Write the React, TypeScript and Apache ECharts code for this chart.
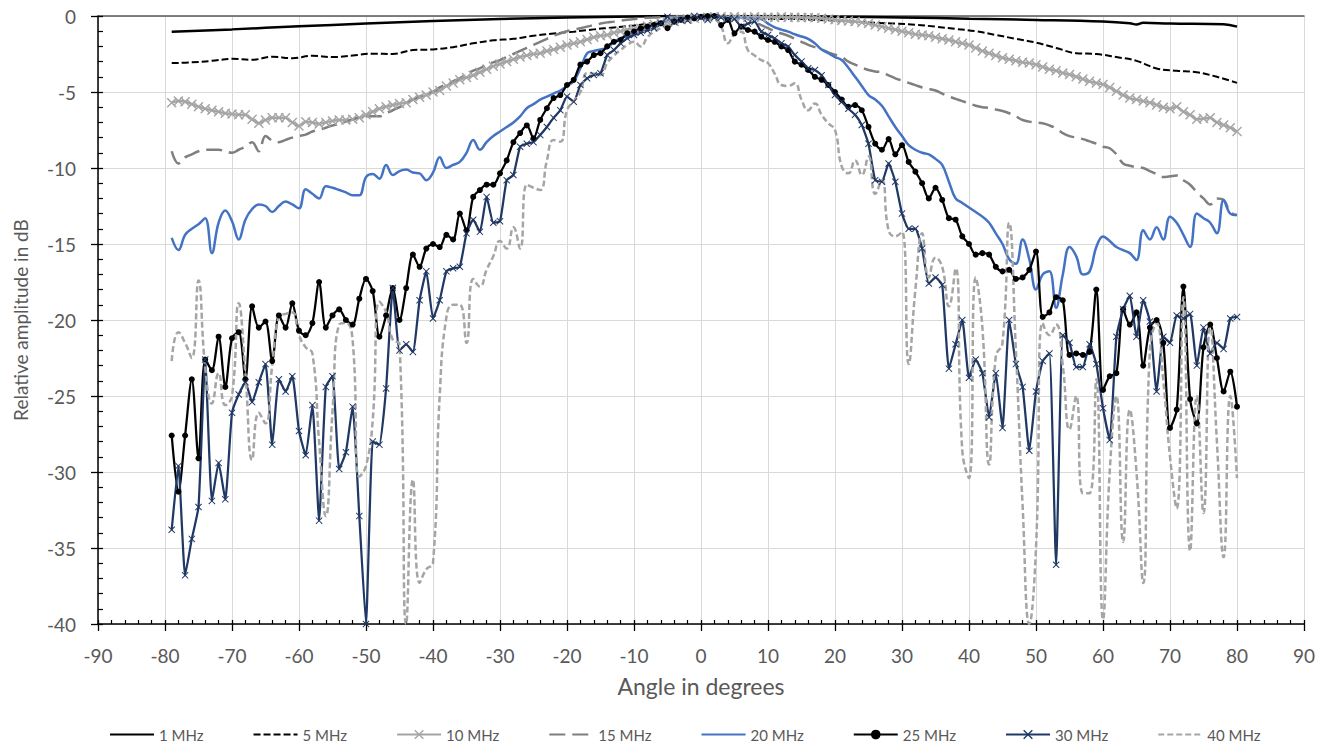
import React, { useEffect, useRef } from "react";
import * as echarts from "echarts";

// x-grid shared by the densely sampled series (-79 .. 80 degrees, 1 degree step)
const ANGLES: number[] = Array.from({ length: 160 }, (_, i) => i - 79);

const ANGLES_1MHZ = [-79, -70, -60, -50, -40, -30, -20, -10, 0, 10, 20, 30, 40, 50, 60, 64, 65, 66, 70, 78, 80];
const MHZ1 = [-1.03, -0.88, -0.68, -0.5, -0.33, -0.2, -0.1, -0.03, 0, 0, -0.05, -0.1, -0.18, -0.26, -0.37, -0.48, -0.56, -0.45, -0.5, -0.55, -0.7];

const ANGLES_5MHZ = [-79, -76, -73, -70, -67, -64, -61, -58, -55, -52, -49, -46, -43, -40, -37, -34, -31, -28, -25, -22, -19, -16, -13, -10, -7, -4, -1, 2, 5, 8, 11, 14, 17, 20, 23, 26, 29, 32, 35, 38, 41, 44, 47, 50, 53, 56, 59, 62, 65, 68, 71, 74, 77, 80];
const MHZ5 = [-3.1, -3.05, -2.95, -2.82, -2.88, -2.68, -2.78, -2.62, -2.7, -2.6, -2.48, -2.5, -2.24, -2.2, -2.05, -1.8, -1.6, -1.5, -1.3, -1.15, -1.03, -0.88, -0.75, -0.62, -0.45, -0.25, -0.08, -0.05, -0.1, -0.15, -0.2, -0.2, -0.25, -0.3, -0.37, -0.45, -0.5, -0.58, -0.7, -0.85, -1.0, -1.25, -1.5, -1.75, -2.1, -2.45, -2.5, -2.7, -2.95, -3.45, -3.6, -3.7, -4.0, -4.4];

const MHZ10 = [
  -5.7, -5.6, -5.64, -5.8, -5.97, -6.1, -6.2, -6.3, -6.4, -6.45,
  -6.5, -6.5, -6.8, -7.05, -6.85, -6.7, -6.7, -6.7, -7.0, -7.24,
  -6.95, -7.0, -7.1, -7.0, -6.9, -6.84, -6.84, -6.8, -6.7, -6.5,
  -6.3, -6.1, -5.97, -5.85, -5.75, -5.7, -5.5, -5.35, -5.2, -5.0,
  -4.9, -4.6, -4.4, -4.2, -4.05, -3.9, -3.7, -3.5, -3.3, -3.15,
  -3.0, -2.85, -2.7, -2.6, -2.5, -2.45, -2.3, -2.2, -2.05, -1.9,
  -1.8, -1.7, -1.55, -1.4, -1.3, -1.25, -1.1, -1.0, -0.9, -0.85,
  -0.8, -0.65, -0.55, -0.45, -0.4, -0.37, -0.25, -0.2, -0.15, -0.1,
  -0.08, -0.05, -0.05, -0.1, -0.05, -0.08, -0.1, -0.05, -0.1, -0.08,
  -0.1, -0.05, -0.1, -0.08, -0.1, -0.1, -0.12, -0.15, -0.2, -0.25,
  -0.3, -0.33, -0.37, -0.42, -0.5, -0.6, -0.7, -0.8, -0.9, -1.0,
  -1.1, -1.2, -1.25, -1.3, -1.4, -1.5, -1.58, -1.7, -1.8, -1.9,
  -2.1, -2.3, -2.45, -2.6, -2.75, -2.85, -2.95, -3.05, -3.1, -3.2,
  -3.35, -3.5, -3.6, -3.75, -3.85, -4.0, -4.15, -4.3, -4.4, -4.5,
  -4.7, -4.95, -5.2, -5.4, -5.5, -5.6, -5.7, -5.85, -6.0, -6.1,
  -5.97, -6.3, -6.5, -6.8, -6.75, -6.7, -7.0, -7.17, -7.35, -7.6,
];

const MHZ15 = [
  -8.9, -9.7, -9.3, -9.1, -8.9, -8.8, -8.8, -8.8, -8.9, -9.0,
  -8.8, -8.6, -8.3, -8.9, -7.9, -8.2, -8.3, -8.15, -8.0, -7.9,
  -7.8, -7.6, -7.5, -7.35, -7.2, -7.1, -6.95, -6.8, -6.65, -6.6,
  -6.6, -6.6, -6.4, -6.2, -6.0, -5.75, -5.5, -5.3, -5.1, -5.0,
  -4.7, -4.5, -4.3, -4.1, -3.85, -3.6, -3.44, -3.2, -3.05, -2.9,
  -2.7, -2.5, -2.3, -2.1, -1.9, -1.7, -1.5, -1.3, -1.15, -1.0,
  -0.9, -0.8, -0.7, -0.6, -0.5, -0.42, -0.37, -0.3, -0.25, -0.2,
  -0.15, -0.12, -0.1, -0.08, -0.05, -0.05, -0.03, -0.02, 0, 0,
  0, -0.02, -0.03, -0.05, -0.05, -0.1, -0.2, -0.4, -0.6, -0.8,
  -1.0, -1.15, -1.3, -1.5, -1.7, -1.9, -2.05, -2.2, -2.4, -2.55,
  -2.7, -3.0, -3.2, -3.4, -3.55, -3.65, -3.7, -3.9, -4.1, -4.25,
  -4.4, -4.55, -4.7, -4.8, -4.9, -5.1, -5.3, -5.45, -5.6, -5.75,
  -5.9, -6.0, -6.05, -6.15, -6.25, -6.4, -6.6, -6.84, -6.95, -7.0,
  -7.06, -7.2, -7.4, -7.7, -7.9, -8.0, -8.1, -8.25, -8.4, -8.6,
  -8.7, -9.1, -9.7, -9.85, -9.95, -10.0, -10.2, -10.4, -10.6, -10.55,
  -10.5, -10.8, -11.1, -11.6, -12.0, -12.4, -12.0, -12.1, -12.9, -13.1,
];

const MHZ20 = [
  -14.6, -15.4, -14.4, -14.0, -13.7, -13.3, -15.6, -13.6, -12.8, -13.5,
  -14.7, -13.4, -12.7, -12.4, -12.5, -12.9, -12.5, -12.2, -12.4, -12.65,
  -11.4, -11.7, -12.0, -11.2, -11.3, -11.45, -11.6, -11.8, -11.8, -10.6,
  -10.4, -10.7, -9.8, -10.46, -10.2, -10.1, -10.3, -10.35, -10.8, -10.3,
  -9.3, -10.0, -9.8, -9.6, -9.0, -8.16, -8.8, -8.3, -7.9, -7.6,
  -7.3, -7.0, -6.6, -6.07, -5.8, -5.5, -5.3, -5.1, -4.9, -4.6,
  -4.3, -3.44, -2.45, -2.3, -2.2, -2.1, -1.7, -1.45, -1.3, -1.1,
  -0.92, -0.75, -0.55, -0.4, -0.3, -0.2, -0.1, -0.05, 0, 0,
  0, -0.05, -0.1, -0.1, -0.15, -0.1, -0.15, -0.15, -0.2, -0.5,
  -0.75, -0.9, -1.03, -1.2, -1.35, -1.5, -1.8, -2.2, -2.45, -2.7,
  -2.9, -3.4, -4.0, -4.6, -5.2, -5.5, -5.9, -6.6, -7.3, -7.9,
  -8.5, -8.8, -9.0, -9.1, -9.4, -9.8, -10.9, -12.0, -12.3, -12.6,
  -12.9, -13.2, -13.6, -14.3, -15.0, -16.0, -16.3, -14.7, -16.0, -18.0,
  -17.0, -16.8, -19.2, -17.0, -15.2, -15.8, -17.0, -16.8, -15.2, -14.5,
  -14.8, -15.2, -15.4, -15.6, -16.05, -14.1, -14.7, -13.9, -14.7, -13.2,
  -13.6, -14.4, -15.2, -13.0, -13.3, -13.6, -14.3, -12.1, -13.0, -13.1,
];

const MHZ25 = [
  -27.6, -31.3, -27.6, -23.9, -29.1, -22.6, -23.3, -21.1, -24.4, -21.2,
  -20.8, -23.9, -19.1, -20.5, -20.1, -22.7, -19.7, -20.5, -18.9, -20.7,
  -21.0, -20.2, -17.5, -20.5, -19.7, -19.3, -20.0, -20.3, -18.6, -17.3,
  -18.1, -21.1, -19.7, -17.9, -20.0, -17.9, -15.7, -16.5, -15.3, -15.0,
  -15.2, -14.4, -14.7, -13.0, -14.1, -11.9, -11.45, -11.1, -11.1, -10.35,
  -9.5, -8.3, -7.7, -7.2, -8.05, -6.84, -6.07, -5.4, -5.2, -4.54,
  -4.2, -3.2, -3.0, -2.57, -2.45, -2.0, -1.7, -1.58, -1.14, -1.03,
  -0.81, -0.7, -0.6, -0.48, -0.8, -0.37, -0.25, -0.1, -0.15, -0.05,
  0, 0, -0.6, -0.26, -1.14, -0.7, -0.92, -1.03, -1.36, -1.58,
  -1.7, -2.0, -2.24, -3.0, -3.2, -3.55, -4.0, -4.2, -4.54, -5.0,
  -5.5, -5.97, -5.86, -6.2, -7.3, -8.4, -8.8, -8.1, -9.1, -8.5,
  -9.6, -10.24, -11.0, -12.0, -11.3, -12.1, -13.3, -13.4, -14.5, -15.0,
  -15.7, -15.6, -15.7, -16.5, -16.8, -16.7, -17.3, -17.2, -16.7, -15.5,
  -19.8, -19.5, -18.5, -18.7, -22.3, -22.2, -22.3, -22.1, -18.0, -24.6,
  -23.7, -23.5, -19.3, -20.3, -19.5, -23.0, -20.5, -20.0, -21.5, -27.1,
  -25.9, -17.8, -25.2, -26.8, -21.8, -20.3, -22.5, -24.7, -23.4, -25.7,
];

const MHZ30 = [
  -33.8, -29.6, -36.8, -34.4, -32.3, -22.6, -31.9, -29.4, -31.8, -26.1,
  -24.9, -24.1, -25.4, -24.1, -22.9, -28.2, -23.9, -24.7, -23.7, -27.3,
  -28.9, -25.6, -33.2, -24.4, -23.7, -29.8, -28.7, -25.7, -32.9, -40,
  -28.0, -28.2, -24.5, -17.9, -22.0, -21.6, -22.1, -18.7, -16.8, -19.9,
  -18.7, -16.8, -16.6, -16.5, -14.3, -13.4, -14.2, -11.9, -13.6, -13.5,
  -10.8, -10.46, -8.6, -8.4, -8.3, -7.83, -7.3, -6.7, -6.2, -5.3,
  -5.64, -4.54, -4.1, -3.88, -3.77, -2.57, -2.24, -1.8, -1.47, -1.25,
  -1.1, -0.95, -0.81, -0.5, -0.05, -0.4, -0.26, -0.3, 0, -0.1,
  -0.26, -0.1, -0.1, -0.2, -0.2, -0.7, -0.5, -0.37, -1.03, -1.25,
  -1.47, -1.8, -2.0, -2.57, -3.0, -3.44, -3.55, -3.9, -4.54, -5.2,
  -5.64, -6.1, -6.5, -7.17, -8.4, -10.8, -10.9, -9.7, -10.9, -13.0,
  -14.0, -14.0, -15.3, -17.6, -17.2, -17.7, -23.2, -21.6, -20.0, -23.8,
  -22.6, -23.5, -26.4, -23.5, -27.1, -20.0, -22.9, -24.4, -28.6, -24.7,
  -22.7, -22.2, -36.1, -21.0, -21.5, -23.1, -23.1, -21.6, -22.9, -25.8,
  -27.9, -21.1, -19.3, -18.4, -21.1, -18.7, -20.1, -24.7, -21.1, -21.5,
  -19.7, -19.9, -19.6, -23.0, -20.5, -22.2, -21.5, -21.9, -19.9, -19.8,
];

const MHZ40 = [
  -22.7, -20.8, -21.5, -22.5, -17.4, -23.1, -25.5, -23.5, -25.6, -25.0,
  -18.9, -23.5, -29.2, -26.1, -26.8, -23.0, -19.8, -19.6, -19.5, -21.0,
  -21.8, -22.2, -28.0, -32.9, -26.0, -20.3, -20.2, -21.3, -30.3, -29.6,
  -26.6, -18.8, -19.5, -21.3, -21.6, -40, -30.5, -37.3, -36.4, -36.0,
  -25.0, -19.8, -19.0, -19.0, -21.5, -17.3, -17.8, -16.7, -15.8, -14.8,
  -15.3, -13.9, -15.3, -11.1, -11.3, -11.45, -9.5, -8.16, -8.27, -6.2,
  -5.6, -5.0, -3.77, -3.8, -3.88, -3.1, -2.6, -2.24, -1.9, -1.7,
  -2.0, -1.4, -1.03, -0.8, -0.6, -0.48, -0.35, -0.25, -0.2, -0.15,
  -0.1, -0.2, -0.7, -1.8, -1.2, -1.03, -2.24, -2.6, -2.9, -3.1,
  -3.8, -4.54, -4.6, -4.43, -5.5, -6.2, -5.75, -6.5, -7.06, -7.5,
  -9.9, -10.35, -9.5, -10.46, -9.25, -11.7, -10.8, -14.1, -14.5, -14.2,
  -22.9, -18.0, -14.3, -17.2, -15.9, -16.5, -19.1, -16.6, -28.6, -30.4,
  -17.2, -20.5, -29.5, -22.4, -21.5, -13.6, -22.0, -32.2, -40, -35.0,
  -20.2, -21.0, -20.3, -23.0, -27.2, -25.0, -31.4, -31.4, -23.9, -39.7,
  -30.0, -25.0, -34.6, -25.9, -30.0, -37.3, -22.0, -20.2, -24.0, -29.0,
  -32.4, -18.5, -35.2, -25.0, -32.7, -20.2, -28.0, -35.6, -25.0, -30.4,
];

const SERIES_NAMES = ["1 MHz", "5 MHz", "10 MHz", "15 MHz", "20 MHz", "25 MHz", "30 MHz", "40 MHz"];
const MARKER_SERIES = ["10 MHz", "25 MHz", "30 MHz"];

const pair = (xs: number[], ys: number[]) => xs.map((x, i) => [x, ys[i]]);

const X_SYMBOL =
  "path://M0,1L1,0L5,4L9,0L10,1L6,5L10,9L9,10L5,6L1,10L0,9L4,5Z";

export default function App() {
  const ref = useRef<HTMLDivElement>(null);

  useEffect(() => {
    if (!ref.current) return;
    const chart = echarts.init(ref.current, null, { renderer: "svg" });
    const font = "Lato, 'Liberation Sans', sans-serif";
    const textGray = "#595959";
    const gridColor = "#d9d9d9";

    const plain = (name: string, xs: number[], ys: number[], color: string, width: number, dash: any, smooth: number) => ({
      name,
      type: "line",
      data: pair(xs, ys),
      smooth,
      symbol: "none",
      lineStyle: { color, width, type: dash },
      itemStyle: { color },
    });

    const legendData = SERIES_NAMES.map((n) =>
      MARKER_SERIES.indexOf(n) >= 0 ? { name: n } : { name: n, itemStyle: { opacity: 0 } }
    );

    const option: any = {
      animation: false,
      backgroundColor: "#ffffff",
      textStyle: { fontFamily: font },
      grid: { left: 98, right: 29, top: 16, bottom: 120, containLabel: false },
      legend: {
        left: 104,
        top: 722,
        itemWidth: 44,
        itemHeight: 12,
        itemGap: 49,
        textStyle: { color: textGray, fontSize: 15, fontFamily: font },
        data: legendData,
      },
      xAxis: [
        {
          type: "value",
          min: -90,
          max: 90,
          interval: 10,
          position: "bottom",
          name: "Angle in degrees",
          nameLocation: "middle",
          nameGap: 50,
          nameTextStyle: { color: textGray, fontSize: 23, fontFamily: font },
          axisLine: { onZero: false, lineStyle: { color: "#000", width: 1.5 } },
          axisTick: { show: true, inside: true, length: 4, lineStyle: { color: "#000", width: 1.3 } },
          minorTick: { show: true, splitNumber: 5, length: 4, lineStyle: { color: "#000", width: 1.2 } },
          axisLabel: { color: textGray, fontSize: 19, margin: 22, fontFamily: font },
          splitLine: { show: true, lineStyle: { color: gridColor, width: 1 } },
        },
        {
          type: "value",
          min: -90,
          max: 90,
          interval: 10,
          position: "bottom",
          axisLine: { show: false, onZero: false },
          axisTick: { show: true, inside: false, length: 7, lineStyle: { color: "#000", width: 1.3 } },
          axisLabel: { show: false },
          splitLine: { show: false },
        },
        {
          type: "value",
          min: -90,
          max: 90,
          interval: 10,
          position: "top",
          axisLine: { show: true, onZero: false, lineStyle: { color: "#595959", width: 1.5 } },
          axisTick: { show: false },
          axisLabel: { show: false },
          splitLine: { show: false },
        },
      ],
      yAxis: [
        {
          type: "value",
          min: -40,
          max: 0,
          interval: 5,
          position: "left",
          name: "Relative amplitude in dB",
          nameLocation: "middle",
          nameGap: 68,
          nameRotate: 90,
          nameTextStyle: { color: textGray, fontSize: 19, fontFamily: font },
          axisLine: { show: true, onZero: false, lineStyle: { color: "#000", width: 1.5 } },
          axisTick: { show: true, inside: true, length: 5, lineStyle: { color: "#000", width: 1.3 } },
          minorTick: { show: true, splitNumber: 5, length: 5, lineStyle: { color: "#000", width: 1.2 } },
          axisLabel: { color: textGray, fontSize: 19, margin: 22, fontFamily: font },
          splitLine: { show: true, lineStyle: { color: gridColor, width: 1 } },
        },
        {
          type: "value",
          min: -40,
          max: 0,
          interval: 5,
          position: "left",
          axisLine: { show: false, onZero: false },
          axisTick: { show: true, inside: false, length: 7, lineStyle: { color: "#000", width: 1.3 } },
          axisLabel: { show: false },
          splitLine: { show: false },
        },
      ],
      series: [
        plain("1 MHz", ANGLES_1MHZ, MHZ1, "#000000", 2.5, "solid", 0.4),
        plain("5 MHz", ANGLES_5MHZ, MHZ5, "#000000", 2, [7, 3], 0.4),
        {
          name: "10 MHz",
          type: "line",
          data: pair(ANGLES, MHZ10),
          smooth: 0.2,
          symbol: X_SYMBOL,
          symbolSize: 10,
          showAllSymbol: true,
          lineStyle: { color: "#A5A5A5", width: 2.5 },
          itemStyle: { color: "#A5A5A5" },
        },
        plain("15 MHz", ANGLES, MHZ15, "#7F7F7F", 2.5, [16, 7], 0.4),
        plain("20 MHz", ANGLES, MHZ20, "#4472C4", 2.5, "solid", 0.4),
        {
          name: "25 MHz",
          type: "line",
          data: pair(ANGLES, MHZ25),
          smooth: 0.3,
          symbol: "circle",
          symbolSize: 6,
          showAllSymbol: true,
          lineStyle: { color: "#000000", width: 2.25 },
          itemStyle: { color: "#000000" },
        },
        {
          name: "30 MHz",
          type: "line",
          data: pair(ANGLES, MHZ30),
          smooth: 0.15,
          symbol: X_SYMBOL,
          symbolSize: 7,
          showAllSymbol: true,
          lineStyle: { color: "#203864", width: 2.25 },
          itemStyle: { color: "#203864" },
        },
        plain("40 MHz", ANGLES, MHZ40, "#A5A5A5", 2.5, [6, 3], 0.5),
      ],
    };

    chart.setOption(option);
    return () => {
      chart.dispose();
    };
  }, []);

  return (
    <div
      ref={ref}
      style={{ position: "fixed", left: 0, top: 0, width: 1333, height: 744, background: "#fff" }}
    />
  );
}
